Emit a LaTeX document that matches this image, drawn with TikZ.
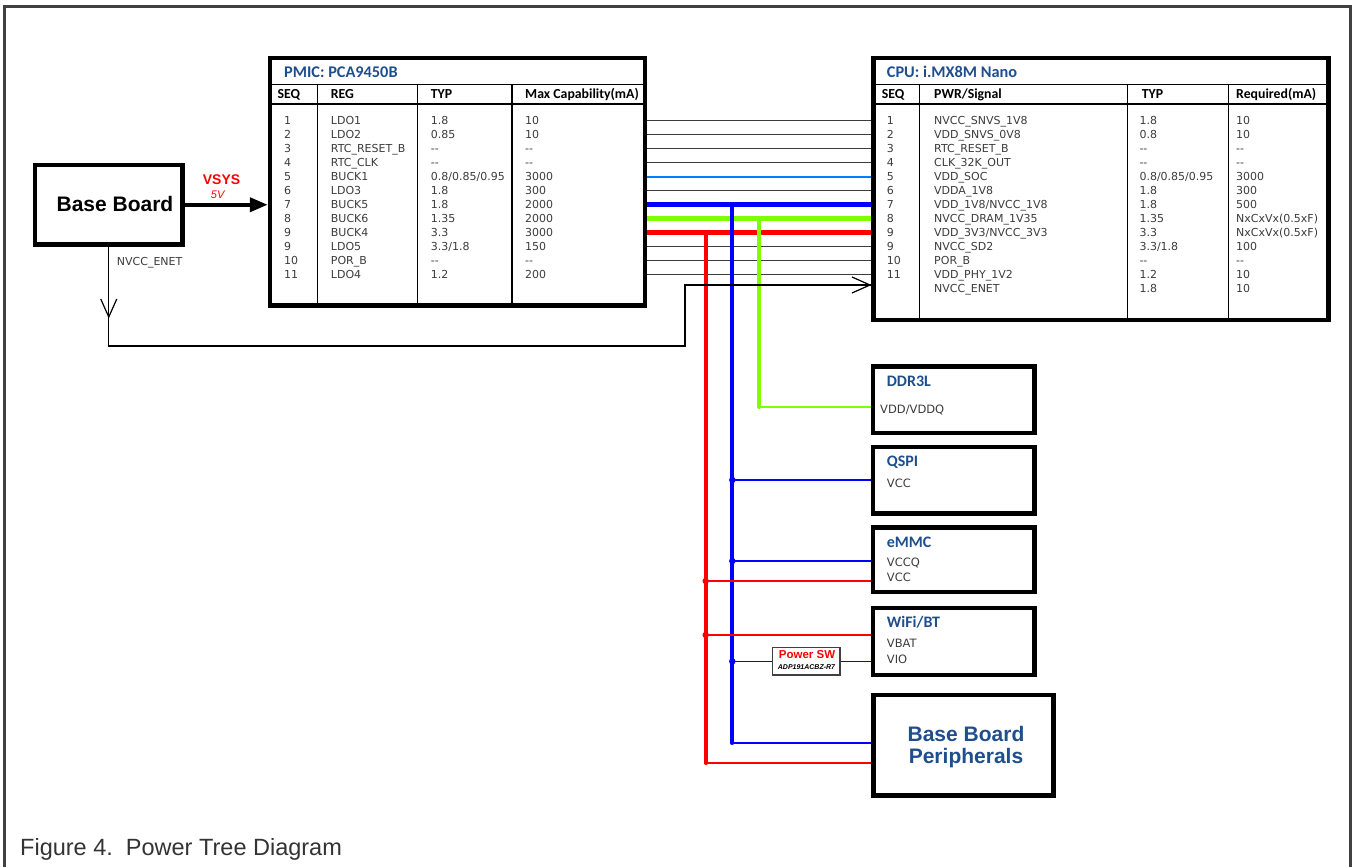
\documentclass[tikz,border=0pt]{standalone}
\usepackage{fontspec}
\setmainfont{Liberation Sans}
\newfontfamily\dvf{DejaVu Sans}
\newfontfamily\clf{Carlito}
\usetikzlibrary{arrows.meta}
\definecolor{ttl}{RGB}{31,78,140}
\definecolor{txt}{RGB}{60,60,60}
\definecolor{frm}{RGB}{64,64,64}
\definecolor{lblue}{RGB}{0,128,255}
\definecolor{lgreen}{RGB}{128,255,0}
\definecolor{capc}{RGB}{51,51,51}

\newcommand\pmicrow[5]{%
  \pgfmathsetmacro\ry{120.5+14*(#1-1)}%
  \node[dat] (pa#1) at (284,\ry) {#2};
  \node[dat] (pb#1) at (330.7,\ry) {#3};
  \node[dat] (pc#1) at (430.7,\ry) {#4};
  \node[dat] (pd#1) at (525,\ry) {#5};
}
\newcommand\cpurow[5]{%
  \pgfmathsetmacro\ry{120.5+14*(#1-1)}%
  \node[dat] (ca#1) at (886.7,\ry) {#2};
  \node[dat] (cb#1) at (934,\ry) {#3};
  \node[dat] (cc#1) at (1139.3,\ry) {#4};
  \node[dat] (cd#1) at (1236,\ry) {#5};
}

\begin{document}
\begin{tikzpicture}[x=1pt,y=-1pt,
  box/.style={draw=black, line width=4.5pt, inner sep=0pt},
  dat/.style={font=\dvf\fontsize{11}{12}\selectfont, text=txt, anchor=west, inner sep=0pt, text height=8pt, text depth=0pt},
  hdr/.style={font=\clf\bfseries\fontsize{13.8}{15}\selectfont, text=black, anchor=west, inner sep=0pt, text height=9pt, text depth=0pt},
  ttlst/.style={font=\clf\bfseries\fontsize{16.3}{18}\selectfont, text=ttl, anchor=west, inner sep=0pt, text height=10.5pt, text depth=0pt},
  lbl/.style={font=\dvf\fontsize{11.5}{13}\selectfont, text=txt, anchor=west, inner sep=0pt, text height=8.4pt, text depth=0pt},
  grid/.style={line width=1.3pt, draw=black},
  sig/.style={line width=1.3pt, draw=txt},
  bus/.style={line width=4.8pt},
  drop/.style={line width=4pt, line cap=round},
  br/.style={line width=1.3pt},
  jn/.style={circle, inner sep=0pt, minimum size=6.5pt},
  barb/.style={-{Straight Barb[length=18pt,width=16pt]}, line width=1.2pt, draw=black}
]
\useasboundingbox (0,0) rectangle (1352,867);

% outer frame
\draw[frm, line width=3pt] (4.3,867) -- (4.3,7) -- (1350.3,7) -- (1350.3,867);

% boxes
\node[box, minimum width=147.5pt, minimum height=79.5pt] (bb) at (108.75,204.75) {};
\node[font=\bfseries\fontsize{21}{24}\selectfont, inner sep=0pt] (bbt) at (115,204) {Base Board};
\node[box, minimum width=375pt, minimum height=247.5pt] (pmic) at (457.5,181.75) {};
\node[box, minimum width=454.8pt, minimum height=262pt] (cpu) at (1101.1,189) {};
\node[box, minimum width=161.5pt, minimum height=66.5pt] (ddr) at (953.75,399.75) {};
\node[box, minimum width=161.5pt, minimum height=66.5pt] (qspi) at (953.75,480.25) {};
\node[box, minimum width=161.5pt, minimum height=64.5pt] (emmc) at (953.75,559.75) {};
\node[box, minimum width=161.5pt, minimum height=67pt] (wifi) at (953.75,641.5) {};
\node[box, minimum width=180.4pt, minimum height=100.5pt] (bbp) at (963.5,745.25) {};
\node[align=center, text=ttl, inner sep=0pt,
      font=\bfseries\fontsize{21}{22}\selectfont] (bbpt) at (966,747) {Base Board\\Peripherals};
\node[draw=frm, line width=1.2pt, minimum width=67.7pt, minimum height=27.3pt, inner sep=0pt] (psw) at (806.15,661.35) {};
\node[font=\bfseries\fontsize{11.5}{13}\selectfont, text=red, inner sep=0pt] (pswa) at (807,654.3) {Power SW};
\node[font=\bfseries\itshape\fontsize{7}{8}\selectfont, inner sep=0pt] (pswb) at (806.5,667) {ADP191ACBZ-R7};

% PMIC table grid
\draw[grid] (270,84.3) -- (645,84.3);
\draw[grid] (270,104) -- (645,104);
\foreach \xx in {317.3,417.3,512} \draw[grid] (\xx,84.3) -- (\xx,305.5);
% CPU table grid
\draw[grid] (873.7,84.3) -- (1328.5,84.3);
\draw[grid] (873.7,104) -- (1328.5,104);
\foreach \xx in {919.3,1127.7,1228.3} \draw[grid] (\xx,84.3) -- (\xx,320);

% titles and headers
\node[ttlst] (pmict) at (284,72.7) {PMIC: PCA9450B};
\node[hdr] (ph1) at (277.3,94) {SEQ};
\node[hdr] (ph2) at (330.7,94) {REG};
\node[hdr] (ph3) at (430.7,94) {TYP};
\node[hdr] (ph4) at (525,94) {Max Capability(mA)};
\node[ttlst] (cput) at (886.7,72.7) {CPU: i.MX8M Nano};
\node[hdr] (ch1) at (881.7,94) {SEQ};
\node[hdr] (ch2) at (934,94) {PWR/Signal};
\node[hdr] (ch3) at (1141.7,94) {TYP};
\node[hdr] (ch4) at (1236,94) {Required(mA)};

% PMIC rows
\pmicrow{1}{1}{LDO1}{1.8}{10}
\pmicrow{2}{2}{LDO2}{0.85}{10}
\pmicrow{3}{3}{RTC\_RESET\_B}{-{}-}{-{}-}
\pmicrow{4}{4}{RTC\_CLK}{-{}-}{-{}-}
\pmicrow{5}{5}{BUCK1}{0.8/0.85/0.95}{3000}
\pmicrow{6}{6}{LDO3}{1.8}{300}
\pmicrow{7}{7}{BUCK5}{1.8}{2000}
\pmicrow{8}{8}{BUCK6}{1.35}{2000}
\pmicrow{9}{9}{BUCK4}{3.3}{3000}
\pmicrow{10}{9}{LDO5}{3.3/1.8}{150}
\pmicrow{11}{10}{POR\_B}{-{}-}{-{}-}
\pmicrow{12}{11}{LDO4}{1.2}{200}

% CPU rows
\cpurow{1}{1}{NVCC\_SNVS\_1V8}{1.8}{10}
\cpurow{2}{2}{VDD\_SNVS\_0V8}{0.8}{10}
\cpurow{3}{3}{RTC\_RESET\_B}{-{}-}{-{}-}
\cpurow{4}{4}{CLK\_32K\_OUT}{-{}-}{-{}-}
\cpurow{5}{5}{VDD\_SOC}{0.8/0.85/0.95}{3000}
\cpurow{6}{6}{VDDA\_1V8}{1.8}{300}
\cpurow{7}{7}{VDD\_1V8/NVCC\_1V8}{1.8}{500}
\cpurow{8}{8}{NVCC\_DRAM\_1V35}{1.35}{NxCxVx(0.5xF)}
\cpurow{9}{9}{VDD\_3V3/NVCC\_3V3}{3.3}{NxCxVx(0.5xF)}
\cpurow{10}{9}{NVCC\_SD2}{3.3/1.8}{100}
\cpurow{11}{10}{POR\_B}{-{}-}{-{}-}
\cpurow{12}{11}{VDD\_PHY\_1V2}{1.2}{10}
\cpurow{13}{}{NVCC\_ENET}{1.8}{10}

% PMIC -> CPU signal lines
\foreach \i in {1,2,3,4,6,10,11,12}
  \draw[sig] (pmic.east |- 0,{120.5+14*(\i-1)}) -- (cpu.west |- 0,{120.5+14*(\i-1)});
\draw[lblue, line width=2pt] (pmic.east |- 0,176.5) -- (cpu.west |- 0,176.5);
\draw[blue, bus] (pmic.east |- 0,204.5) -- (cpu.west |- 0,204.5);
\draw[lgreen, bus] (pmic.east |- 0,218.5) -- (cpu.west |- 0,218.5);
\draw[red, bus] (pmic.east |- 0,232.5) -- (cpu.west |- 0,232.5);

% drops
\coordinate (rtop) at (705.7,232.5);
\coordinate (rbot) at (705.7,763);
\coordinate (btop) at (732.3,204.5);
\coordinate (bbot) at (732.3,743);
\coordinate (gtop) at (759,218.5);
\coordinate (gbot) at (759,407);
\draw[red, drop] (rtop) -- (rbot);
\draw[blue, drop] (btop) -- (bbot);
\draw[lgreen, drop] (gtop) -- (gbot);

% branches
\draw[lgreen, br] (gbot) -- (ddr.west |- gbot);
\node[jn, fill=blue] (j1) at (732.3,480) {};
\draw[blue, br] (j1.center) -- (qspi.west |- j1.center);
\node[jn, fill=blue] (j2) at (732.3,561) {};
\draw[blue, br] (j2.center) -- (emmc.west |- j2.center);
\node[jn, fill=red] (j3) at (705.7,581) {};
\draw[red, br] (j3.center) -- (emmc.west |- j3.center);
\node[jn, fill=red] (j4) at (705.7,635) {};
\draw[red, br] (j4.center) -- (wifi.west |- j4.center);
\node[jn, fill=blue] (j5) at (732.3,661.35) {};
\draw[blue, br] (j5.center) -- (psw.west);
\draw[blue, br] (psw.east) -- (wifi.west |- psw.east);
\draw[blue, br] (bbot) -- (bbp.west |- bbot);
\draw[red, br] (rbot) -- (bbp.west |- rbot);

% box labels
\node[ttlst, font=\clf\bfseries\fontsize{16}{18}\selectfont] (ddrt) at (886.7,381) {DDR3L};
\node[lbl] (ddra) at (880,409) {VDD/VDDQ};
\node[ttlst, font=\clf\bfseries\fontsize{16}{18}\selectfont] (qspit) at (886.7,461.7) {QSPI};
\node[lbl] (qspia) at (886.7,483.3) {VCC};
\node[ttlst, font=\clf\bfseries\fontsize{16}{18}\selectfont] (emmct) at (886.7,542.3) {eMMC};
\node[lbl] (emmca) at (886.7,562.7) {VCCQ};
\node[lbl] (emmcb) at (886.7,577.7) {VCC};
\node[ttlst, font=\clf\bfseries\fontsize{16}{18}\selectfont] (wifit) at (886.7,622.7) {WiFi/BT};
\node[lbl] (wifia) at (886.7,643.3) {VBAT};
\node[lbl] (wifib) at (886.7,659) {VIO};

% VSYS
\draw[line width=4pt, -{Triangle[length=18pt,width=14pt]}] (bb.east) -- (pmic.west |- bb.east);
\node[font=\bfseries\fontsize{14}{16}\selectfont, text=red, inner sep=0pt] (vsys) at (221.5,179.3) {VSYS};
\node[font=\itshape\fontsize{11}{12}\selectfont, text=red, inner sep=0pt] (v5) at (217.7,195) {5V};

% NVCC_ENET
\node[lbl, font=\dvf\fontsize{11}{12}\selectfont] (enet) at (116.7,261.5) {NVCC\_ENET};
\coordinate (e1) at (108.75,346);
\coordinate (e2) at (685,346);
\coordinate (e3) at (685,285);
\draw[line width=1.2pt] (bb.south) -- (e1) -- (e2) -- (e3) -- (cpu.west |- e3);
\draw[barb] (e3) -- (cpu.west |- e3);
\draw[barb] (bb.south) -- (108.75,318.5);

% caption
\node[anchor=base west, inner sep=0pt, text=capc, font=\fontsize{23.5}{26}\selectfont] (cap) at (20,855) {Figure 4.\ \ Power Tree Diagram};
\end{tikzpicture}
\end{document}
